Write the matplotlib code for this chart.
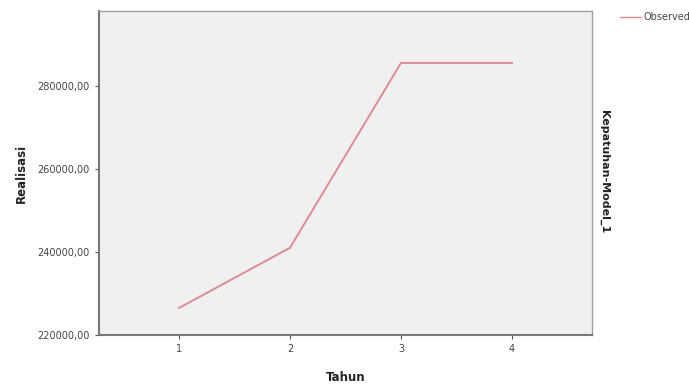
import matplotlib.pyplot as plt

tahun = [1, 2, 3, 4]
realisasi = [226500, 241000, 285500, 285500]
yticks = [220000, 240000, 260000, 280000]
ytick_labels = ['220000,00', '240000,00', '260000,00', '280000,00']

fig = plt.figure(figsize=(6.89, 3.85), dpi=100)
ax = fig.add_axes([99 / 689, 1 - 335 / 385, (592 - 99) / 689, (335 - 11) / 385])
ax.set_facecolor('#f0f0f0')

ax.plot(tahun, realisasi, color='#dd8c92', lw=1.4)

ax.set_xlim(0.28, 4.72)
ax.set_ylim(220000, 298000)
ax.set_xticks(tahun)
ax.set_xticklabels([str(t) for t in tahun], fontsize=7, color='#444444')
ax.set_yticks(yticks)
ax.set_yticklabels(ytick_labels, fontsize=7, color='#444444')
ax.tick_params(length=3, width=0.8, color='#555555')

for s in ax.spines.values():
    s.set_color('#a0a0a0')
    s.set_linewidth(1.0)
ax.spines['left'].set_color('#777777')
ax.spines['bottom'].set_color('#777777')
ax.spines['left'].set_linewidth(1.5)
ax.spines['bottom'].set_linewidth(1.5)

ax.set_xlabel('Tahun', fontsize=8.5, fontweight='bold', color='#222222', labelpad=12)
ax.set_ylabel('Realisasi', fontsize=8.5, fontweight='bold', color='#222222', labelpad=7)

fig.text(604 / 689, 1 - 172 / 385, 'Kepatuhan-Model_1', rotation=-90, fontsize=8,
         fontweight='bold', color='#222222', ha='center', va='center')

# legend entry, cut off at the image edge like the original
fig.lines.append(plt.Line2D([620 / 689, 641 / 689], [1 - 17 / 385, 1 - 17 / 385],
                            transform=fig.transFigure, color='#dd8c92', lw=1))
fig.text(643 / 689, 1 - 17 / 385, 'Observed', fontsize=7, color='#444444',
         ha='left', va='center')

fig.savefig('out.png', dpi=100)
